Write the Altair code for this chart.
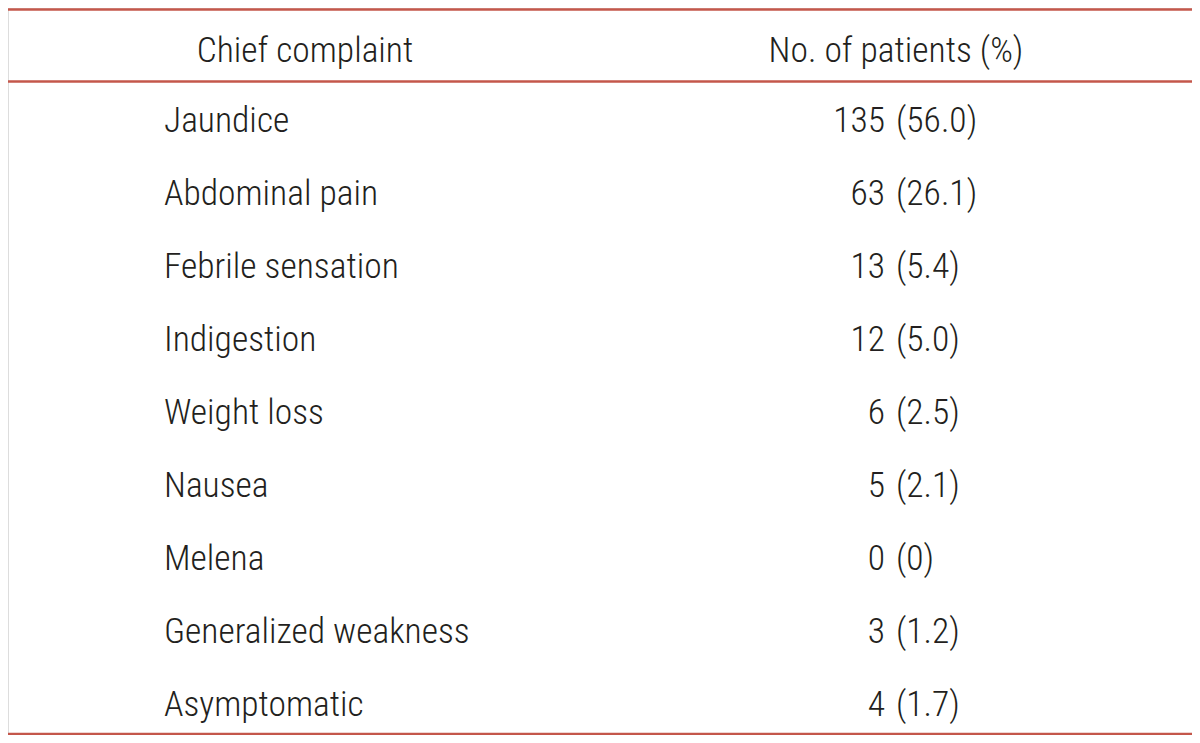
import altair as alt
import pandas as pd

# ---- data ----
header_left = "Chief complaint"
header_right = "No. of patients (%)"
complaints = ["Jaundice", "Abdominal pain", "Febrile sensation", "Indigestion",
              "Weight loss", "Nausea", "Melena", "Generalized weakness", "Asymptomatic"]
counts = [135, 63, 13, 12, 6, 5, 0, 3, 4]
percents = ["56.0", "26.1", "5.4", "5.0", "2.5", "2.1", "0", "1.2", "1.7"]

rows = pd.DataFrame({
    "row": list(range(len(complaints))),
    "complaint": complaints,
    "count": [str(c) for c in counts],
    "pct": ["(" + p + ")" for p in percents],
})
header = pd.DataFrame({"row": [-0.959], "left": [header_left], "right": [header_right]})
rules = pd.DataFrame({"row": [-1.678, -0.692, 8.245]})

W, H = 1184, 727
FONT = "Roboto Condensed, Liberation Sans Narrow, DejaVu Sans Condensed, sans-serif"
TXT = "#231f20"
RED = "#c4574b"

yscale = alt.Scale(domain=[-1.6986, 8.2603], reverse=True, nice=False, zero=False)
Y = alt.Y("row:Q", scale=yscale, axis=None)

rule_layer = alt.Chart(rules).mark_rule(color=RED, strokeWidth=2.5).encode(
    y=Y, x=alt.value(0), x2=alt.value(W)
)

text_kw = dict(font=FONT, fontSize=35.5, fontWeight=300, color=TXT, baseline="alphabetic")

head_l = alt.Chart(header).mark_text(align="center", **text_kw).encode(
    y=Y, x=alt.value(297), text="left:N")
head_r = alt.Chart(header).mark_text(align="center", **text_kw).encode(
    y=Y, x=alt.value(888), text="right:N")

name_layer = alt.Chart(rows).mark_text(align="left", **text_kw).encode(
    y=Y, x=alt.value(156), text="complaint:N")
count_layer = alt.Chart(rows).mark_text(align="right", **text_kw).encode(
    y=Y, x=alt.value(877), text="count:N")
pct_layer = alt.Chart(rows).mark_text(align="left", **text_kw).encode(
    y=Y, x=alt.value(888), text="pct:N")

chart = alt.layer(rule_layer, head_l, head_r, name_layer, count_layer, pct_layer).properties(
    width=W, height=H, padding=0, autosize=alt.AutoSizeParams(type="none")
).configure_view(stroke=None, strokeWidth=0).configure(background="white")

chart.save("out.html", embed_options={"renderer": "svg", "actions": False})
